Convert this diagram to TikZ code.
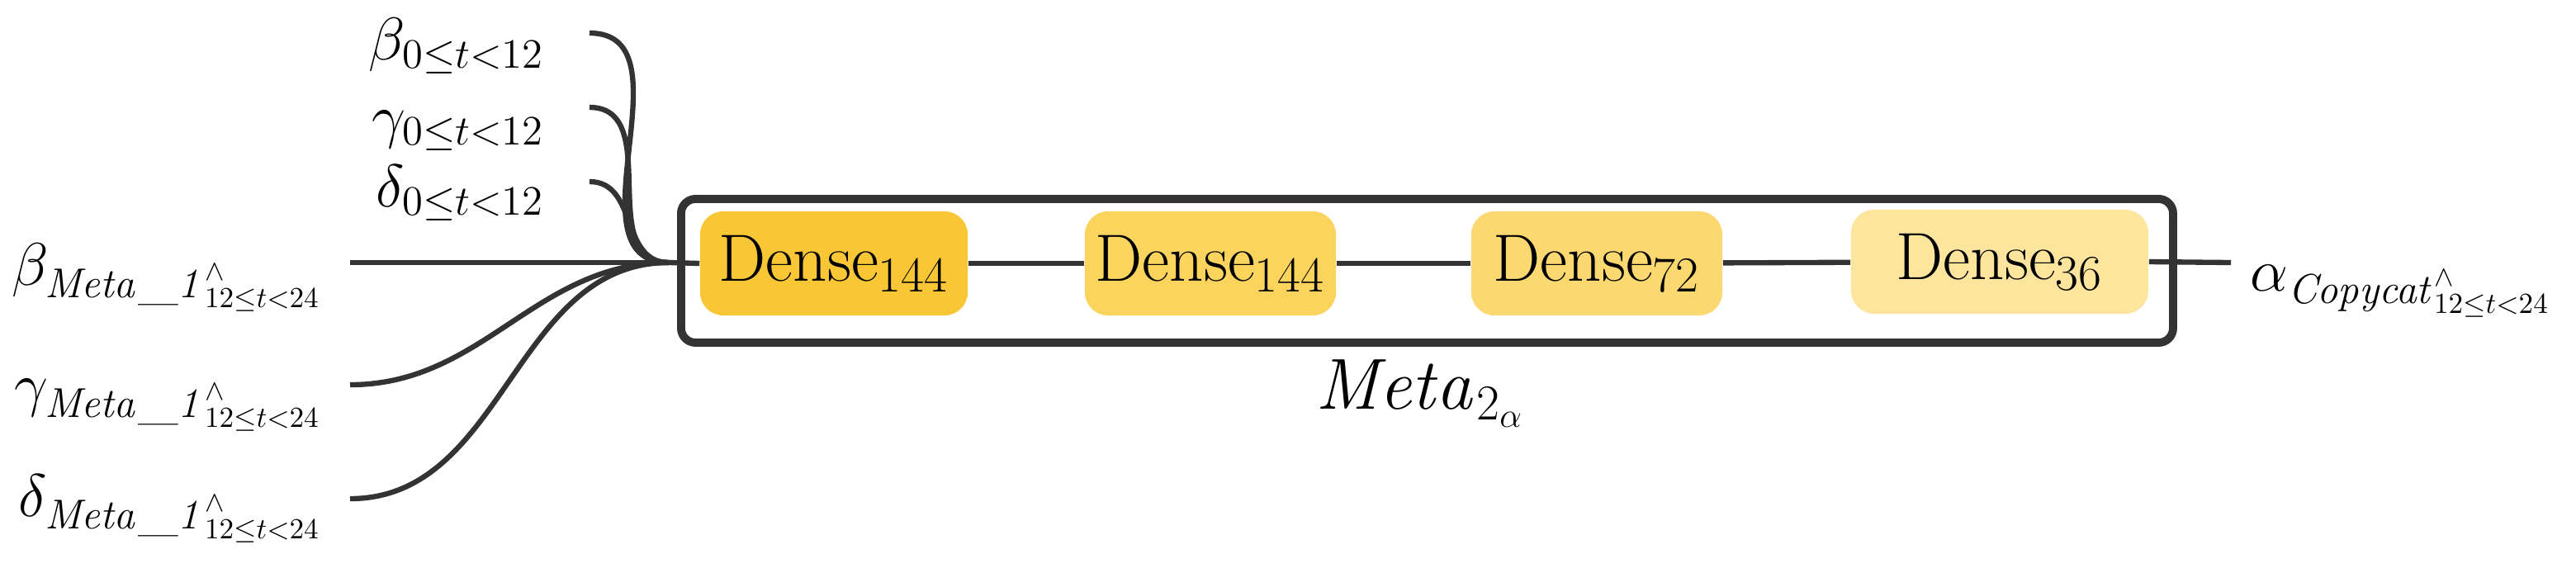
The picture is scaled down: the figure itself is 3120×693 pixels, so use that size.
\documentclass[tikz,border=0pt]{standalone}
\begin{document}
\begin{tikzpicture}[x=0.01cm,y=-0.01cm,
  conn/.style={line width=1.8pt,draw=black!80},
  dense/.style={rounded corners=8pt,inner sep=0pt,minimum height=1.26cm,font=\fontsize{23}{28}\selectfont},
  lbl/.style={font=\fontsize{20}{24}\selectfont,inner sep=0pt}]
\useasboundingbox (0,0) rectangle (3120,693);
\definecolor{d1}{HTML}{F9C736}\definecolor{d2}{HTML}{FBD45E}
\definecolor{d3}{HTML}{FCD870}\definecolor{d4}{HTML}{FDE59E}
\node[draw=black!80,line width=2.8pt,rounded corners=5pt,minimum width=18.06cm,minimum height=1.74cm,anchor=north west] (box) at (820,236) {};
\node[dense,fill=d1,minimum width=3.24cm] (n1) at (1010,319) {Dense$_{144}$};
\node[dense,fill=d2,minimum width=3.04cm] (n2) at (1466,319) {Dense$_{144}$};
\node[dense,fill=d3,minimum width=3.04cm] (n3) at (1934,319) {Dense$_{72}$};
\node[dense,fill=d4,minimum width=3.60cm] (n4) at (2422,317) {Dense$_{36}$};
\draw[conn] (n1) -- (n2); \draw[conn] (n2) -- (n3); \draw[conn] (n3) -- (n4);
\coordinate (j) at (810,318);
\coordinate (o) at (2702,318);
\draw[conn] (n4.east) -- (o);
\draw[conn] (j) -- (n1.west);
\node[lbl,anchor=base west] (out) at (2725,352) {$\alpha_{\mathit{Copycat}^{\wedge}_{12\leq t<24}}$};
\node[lbl,font=\fontsize{23}{28}\selectfont,anchor=base] (meta) at (1720,495) {$\mathit{Meta}_{2_\alpha}$};
\coordinate (b0) at (714,40); \coordinate (g0) at (714,130); \coordinate (d0) at (714,220);
\coordinate (bm) at (424,318); \coordinate (gm) at (424,466); \coordinate (dm) at (424,604);
\node[lbl,anchor=base east] (lb0) at (660,72) {$\beta_{0\leq t<12}$};
\node[lbl,anchor=base east] (lg0) at (660,165) {$\gamma_{0\leq t<12}$};
\node[lbl,anchor=base east] (ld0) at (660,250) {$\delta_{0\leq t<12}$};
\node[lbl,anchor=base east] (lbm) at (390,345) {$\beta_{\mathit{Meta\_1}^{\wedge}_{12\leq t<24}}$};
\node[lbl,anchor=base east] (lgm) at (390,490) {$\gamma_{\mathit{Meta\_1}^{\wedge}_{12\leq t<24}}$};
\node[lbl,anchor=base east] (ldm) at (390,625) {$\delta_{\mathit{Meta\_1}^{\wedge}_{12\leq t<24}}$};
\draw[conn] (b0) to[out=0,in=180,looseness=1.1] (j);
\draw[conn] (g0) to[out=0,in=180,looseness=1.1] (j);
\draw[conn] (d0) to[out=0,in=180,looseness=1.1] (j);
\draw[conn] (bm) -- (j);
\draw[conn] (gm) to[out=0,in=180,looseness=1] (j);
\draw[conn] (dm) to[out=0,in=180,looseness=1] (j);
\end{tikzpicture}
\end{document}
